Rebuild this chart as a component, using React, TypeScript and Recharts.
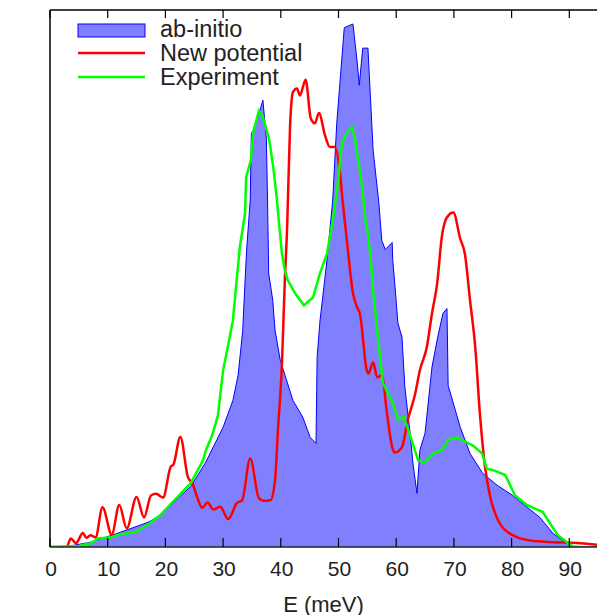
import React from 'react';
import { ComposedChart, Area, Line, XAxis, YAxis, ReferenceLine } from 'recharts';

// ---- data (E in meV, VDOS in arbitrary units, 0..100 = full plot height) ----
const abInitio: [number, number][] = [
  [0, 0], [1.4, 0], [4, 0.3], [7.1, 0.9], [11.3, 2.4], [17.0, 4.6], [19.2, 5.9], [22.2, 9.1],
  [24.4, 11.3], [26.9, 15.6], [30.0, 22.3], [31.7, 27.3], [32.6, 32.0], [33.4, 40.3], [33.8, 49.5],
  [34.1, 55.7], [34.7, 64.6], [34.9, 77], [35.5, 78.2], [36.9, 83.2], [37.5, 76], [37.7, 64.6],
  [37.9, 51], [38.6, 46], [39.0, 40.4], [39.9, 34.8], [42.1, 27.3], [43.8, 24.2], [45.1, 20.4],
  [46.1, 19.3], [46.3, 35.4], [46.8, 42.2], [48.0, 53.4], [49.0, 64.6], [49.7, 79], [51.0, 96.7],
  [52.5, 97.4], [53.2, 90.7], [53.6, 86], [54.2, 92.9], [55.1, 92.9], [55.5, 84.5], [56.0, 73.9],
  [57.0, 64.0], [57.5, 57.1], [58.1, 55.4], [59.3, 56.7], [59.4, 53.4], [59.8, 48.4], [60.3, 41.7],
  [61.0, 39.1], [61.5, 29.8], [62.4, 21.2], [62.9, 15.6], [63.6, 10.0], [64.1, 18.0], [65.0, 21.2],
  [66.2, 33.5], [67.2, 39.1], [68.1, 43.5], [68.8, 44.4], [69.0, 30.1], [71.1, 22.3], [72.8, 17.4],
  [75.0, 13.7], [77.5, 11.5], [80.2, 9.6], [82.7, 7.4], [84.9, 5.5], [87.2, 2.5], [89.6, 0.7],
  [90.6, 0.1], [92, 0], [94.8, 0],
];

const newPotential: [number, number][] = [
  [0, 0], [2.9, 0], [3.6, 1.6], [4.5, 0.7], [5.7, 2.6], [6.3, 1.7], [7.0, 2.2], [7.9, 1.8],
  [9.1, 7.4], [10.7, 2.3], [12.0, 7.8], [13.3, 3.5], [15.0, 9.3], [16.3, 5.5], [17.5, 9.6],
  [18.4, 9.9], [19.6, 9.2], [20.9, 14.9], [21.4, 15.4], [22.6, 20.5], [23.9, 13.0], [24.7, 11.8],
  [25.5, 9.3], [26.4, 7.3], [27.3, 8.3], [28.3, 7.0], [29.5, 7.5], [30.9, 5.2], [32.4, 8.2],
  [33.3, 8.7], [34.7, 16.5], [36.2, 9.1], [37.0, 8.6], [38.2, 8.7], [39.0, 12.4], [39.5, 21.7],
  [40.2, 34.2], [40.7, 49.7], [41.1, 59.6], [41.6, 78.2], [42.1, 84.7], [42.8, 85.4], [43.3, 84.1],
  [44.3, 87.0], [45.2, 79.8], [45.9, 78.9], [46.6, 80.8], [47.7, 76.5], [48.5, 74.5], [49.4, 74.5],
  [50.2, 70.2], [50.7, 64.6], [51.5, 56.6], [52.5, 47.3], [53.2, 44.7], [53.7, 43.5], [54.9, 32.9],
  [55.2, 32.3], [56.0, 34.4], [56.7, 31.6], [57.5, 32.0], [58.4, 24.9], [59.3, 18.6], [59.8, 17.6],
  [61.0, 18.6], [62.0, 23.6], [63.3, 28.6], [64.1, 32.9], [65.3, 37.2], [66.2, 43.5], [67.1, 49.1],
  [67.9, 57.7], [68.8, 61.4], [69.9, 62.3], [71.1, 57.4], [71.9, 54.6], [72.8, 45.9], [73.7, 37.2],
  [74.5, 24.9], [75.4, 14.9], [76.3, 9.3], [77.7, 4.9], [80.2, 2.2], [83.2, 1.2], [87.2, 0.9],
  [91.9, 0.7], [94.8, 0.4],
];

const experiment: [number, number][] = [
  [0, 0], [1, 0], [5, 0.2], [7.1, 0.7], [8.3, 1.6], [10.6, 1.8], [12.1, 2.4], [14.7, 2.7],
  [17.0, 4.2], [19.1, 5.9], [21.0, 8.1], [22.7, 10.0], [24.4, 11.9], [25.6, 14.3], [26.5, 16.1],
  [27.0, 18.0], [28.1, 20.8], [29.1, 24.5], [30.0, 32.9], [30.8, 37.2], [31.7, 42.2], [32.9, 55.9],
  [33.8, 62.1], [34.0, 68.9], [34.8, 72.0], [35.2, 77.2], [36.2, 81.2], [36.9, 80.1], [38.0, 75.8],
  [38.7, 70.7], [39.3, 65.0], [39.6, 61.4], [40.2, 54.6], [40.7, 51.5], [41.2, 49.7], [42.5, 47.2],
  [44.0, 45.0], [45.6, 46.5], [46.8, 51.0], [48.0, 54.6], [49.0, 60.8], [49.9, 67.7], [50.6, 75.2],
  [51.5, 77.3], [52.3, 78.2], [52.9, 75.8], [53.4, 72.0], [54.1, 67.0], [54.6, 61.4], [55.1, 58.4],
  [55.6, 53.4], [56.0, 47.8], [56.7, 40.4], [57.7, 30.5], [58.6, 28.6], [59.4, 27.0], [60.3, 23.7],
  [61.3, 24.2], [62.5, 20.5], [63.8, 16.1], [65.0, 15.8], [66.4, 17.4], [67.9, 18.0], [69.0, 19.9],
  [70.5, 20.4], [73.3, 18.9], [74.9, 17.4], [75.7, 14.6], [76.8, 14.3], [78.9, 13.4], [80.6, 9.6],
  [82.7, 7.8], [85.4, 6.5], [88.0, 2.2], [90.6, 0.1], [92.0, 0],
];

const xTicks = [0, 10, 20, 30, 40, 50, 60, 70, 80, 90];
const xDomain: [number, number] = [0, 94.8];
const yDomain: [number, number] = [0, 100];

const seriesNames = ['ab-initio', 'New potential', 'Experiment'];
const seriesColors = ['#0000ff', '#ff0000', '#00ff00'];
const areaFill = '#8080ff';

const toRows = (pts: [number, number][]) => pts.map(([e, v]) => ({ e, v }));

const FONT = '"Liberation Sans", Arial, Helvetica, sans-serif';
const TEXT = '#222222';

const BottomTick = (props: any) => {
  const { x, y, payload } = props;
  return (
    <g>
      <line x1={x} y1={y} x2={x} y2={y - 9} stroke="#000" strokeWidth={1.2} />
      <text x={x + 1} y={y + 28.5} textAnchor="middle" fontSize={21} fill={TEXT} fontFamily={FONT}>
        {payload.value}
      </text>
    </g>
  );
};

const TopTick = (props: any) => {
  const { x, y } = props;
  return <line x1={x} y1={y} x2={x} y2={y + 8} stroke="#000" strokeWidth={1.2} />;
};

const Legend = () => (
  <svg width={597} height={100} style={{ position: 'absolute', left: 0, top: 0, pointerEvents: 'none' }}>
    {seriesNames.map((name, i) => {
      const base = 37 + i * 24;
      return (
        <g key={name}>
          {i === 0 ? (
            <rect x={78} y={24} width={67} height={13} fill={areaFill} stroke={seriesColors[0]} strokeWidth={1} />
          ) : (
            <line x1={78} x2={145} y1={base - 8} y2={base - 8} stroke={seriesColors[i]} strokeWidth={2.5} />
          )}
          <text x={160} y={base} fontSize={23.5} fill={TEXT} fontFamily={FONT}>
            {name}
          </text>
        </g>
      );
    })}
  </svg>
);

export default function App() {
  return (
    <div style={{ position: 'absolute', left: 0, top: 0, width: 597, height: 615, background: '#fff' }}>
      <ComposedChart width={597} height={615} margin={{ top: 0, right: 0, bottom: 0, left: 50 }}>
        <XAxis
          xAxisId="top"
          orientation="top"
          type="number"
          dataKey="e"
          domain={xDomain}
          ticks={xTicks}
          height={10}
          tickSize={0}
          tickMargin={0}
          tickLine={false}
          tick={<TopTick />}
          axisLine={{ stroke: '#000', strokeWidth: 1.3 }}
          interval={0}
          allowDataOverflow
        />
        <XAxis
          xAxisId="b"
          type="number"
          dataKey="e"
          domain={xDomain}
          ticks={xTicks}
          height={68}
          tickSize={0}
          tickMargin={0}
          tickLine={false}
          tick={<BottomTick />}
          axisLine={{ stroke: '#222', strokeWidth: 1.5 }}
          interval={0}
          allowDataOverflow
          label={{
            content: (p: any) => {
              const vb = p.viewBox || { x: 50, y: 547, width: 547, height: 68 };
              return (
                <text x={vb.x + vb.width / 2} y={vb.y + vb.height - 3} textAnchor="middle" fontSize={22} fill={TEXT} fontFamily={FONT}>
                  E (meV)
                </text>
              );
            },
          }}
        />
        <YAxis
          yAxisId="y"
          type="number"
          domain={yDomain}
          width={0}
          tick={false}
          tickLine={false}
          axisLine={false}
          allowDataOverflow
          label={{
            content: (p: any) => {
              const vb = p.viewBox || { x: 50, y: 10, width: 0, height: 537 };
              const cx = 33;
              const cy = vb.y + vb.height / 2 - 3;
              return (
                <text x={cx} y={cy} transform={`rotate(-90 ${cx} ${cy})`} textAnchor="middle" fontSize={21} fill={TEXT} fontFamily={FONT}>
                  VDOS (arb. units)
                </text>
              );
            },
          }}
        />
        <Area
          xAxisId="b"
          yAxisId="y"
          data={toRows(abInitio)}
          dataKey="v"
          name={seriesNames[0]}
          type="linear"
          stroke={seriesColors[0]}
          strokeWidth={1}
          fill={areaFill}
          fillOpacity={1}
          dot={false}
          activeDot={false}
          isAnimationActive={false}
        />
        <Line
          xAxisId="b"
          yAxisId="y"
          data={toRows(newPotential)}
          dataKey="v"
          name={seriesNames[1]}
          type="monotone"
          stroke={seriesColors[1]}
          strokeWidth={2.5}
          dot={false}
          activeDot={false}
          isAnimationActive={false}
        />
        <Line
          xAxisId="b"
          yAxisId="y"
          data={toRows(experiment)}
          dataKey="v"
          name={seriesNames[2]}
          type="linear"
          stroke={seriesColors[2]}
          strokeWidth={2.5}
          dot={false}
          activeDot={false}
          isAnimationActive={false}
        />
        <ReferenceLine
          xAxisId="b"
          yAxisId="y"
          x={0}
          stroke="#000"
          strokeWidth={1.5}
          ifOverflow="visible"
        />
      </ComposedChart>
      <Legend />
    </div>
  );
}
